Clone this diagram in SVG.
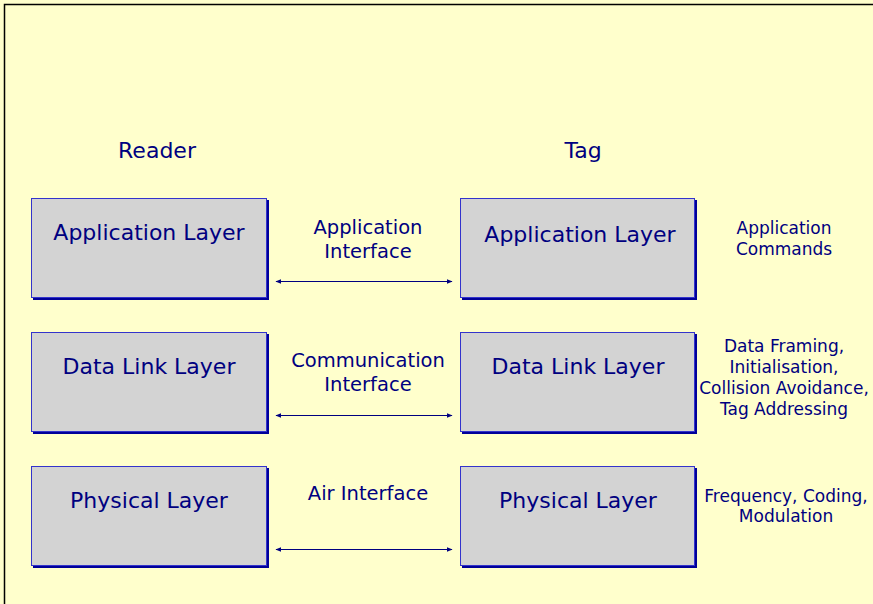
<svg xmlns="http://www.w3.org/2000/svg" width="873" height="604" viewBox="0 0 873 604">
<defs>
<style>
.bg{fill:#FFFFCC}
.frame{fill:none;stroke:#000;stroke-width:1.5}
.box{fill:#D3D3D3;stroke:#3333CC;stroke-width:1}
.sh{fill:#000099}
.t{font-family:"DejaVu Sans",Verdana,sans-serif;fill:#000080;text-anchor:middle}
.big{font-size:22px}
.mid{font-size:19.5px}
.sm{font-size:17px}
.con{stroke:#000080;stroke-width:1;fill:none;marker-start:url(#ah);marker-end:url(#ah)}
</style>
<marker id="ah" viewBox="0 0 10 10" refX="9" refY="5" markerWidth="6" markerHeight="6" orient="auto-start-reverse" markerUnits="userSpaceOnUse">
<path d="M0,1 L10,5 L0,9 Z" fill="#000080"/>
</marker>
</defs>
<rect class="bg" x="0" y="0" width="873" height="604"/>
<path class="frame" d="M4.5,604 V4.5 H873"/>
<text class="t big" x="157" y="158">Reader</text>
<text class="t big" x="583" y="158">Tag</text>
<g id="reader-app">
<rect class="sh" x="33" y="200" width="236" height="100"/>
<rect class="box" x="31.5" y="198.5" width="235" height="99"/>
<text class="t big" x="149" y="240">Application Layer</text>
</g>
<g id="reader-dll">
<rect class="sh" x="33" y="334" width="236" height="100"/>
<rect class="box" x="31.5" y="332.5" width="235" height="99"/>
<text class="t big" x="149" y="374">Data Link Layer</text>
</g>
<g id="reader-phy">
<rect class="sh" x="33" y="468" width="236" height="100"/>
<rect class="box" x="31.5" y="466.5" width="235" height="99"/>
<text class="t big" x="149" y="508">Physical Layer</text>
</g>
<g id="tag-app">
<rect class="sh" x="462" y="200" width="235" height="100"/>
<rect class="box" x="460.5" y="198.5" width="234" height="99"/>
<text class="t big" x="580" y="242">Application Layer</text>
</g>
<g id="tag-dll">
<rect class="sh" x="462" y="334" width="235" height="100"/>
<rect class="box" x="460.5" y="332.5" width="234" height="99"/>
<text class="t big" x="578" y="374">Data Link Layer</text>
</g>
<g id="tag-phy">
<rect class="sh" x="462" y="468" width="235" height="100"/>
<rect class="box" x="460.5" y="466.5" width="234" height="99"/>
<text class="t big" x="578" y="508">Physical Layer</text>
</g>
<g id="connectors">
<line class="con" x1="276" y1="281.5" x2="452" y2="281.5"/>
<line class="con" x1="276" y1="415.5" x2="452" y2="415.5"/>
<line class="con" x1="276" y1="549.5" x2="452" y2="549.5"/>
</g>
<g id="labels">
<text class="t mid" x="368" y="234">Application</text>
<text class="t mid" x="368" y="258">Interface</text>
<text class="t mid" x="368" y="367">Communication</text>
<text class="t mid" x="368" y="391">Interface</text>
<text class="t mid" x="368" y="500">Air Interface</text>
<text class="t sm" x="784" y="234">Application</text>
<text class="t sm" x="784" y="255">Commands</text>
<text class="t sm" x="784" y="352">Data Framing,</text>
<text class="t sm" x="784" y="373">Initialisation,</text>
<text class="t sm" x="784" y="394">Collision Avoidance,</text>
<text class="t sm" x="784" y="415">Tag Addressing</text>
<text class="t sm" x="786" y="502">Frequency, Coding,</text>
<text class="t sm" x="786" y="522">Modulation</text>
</g>
</svg>
